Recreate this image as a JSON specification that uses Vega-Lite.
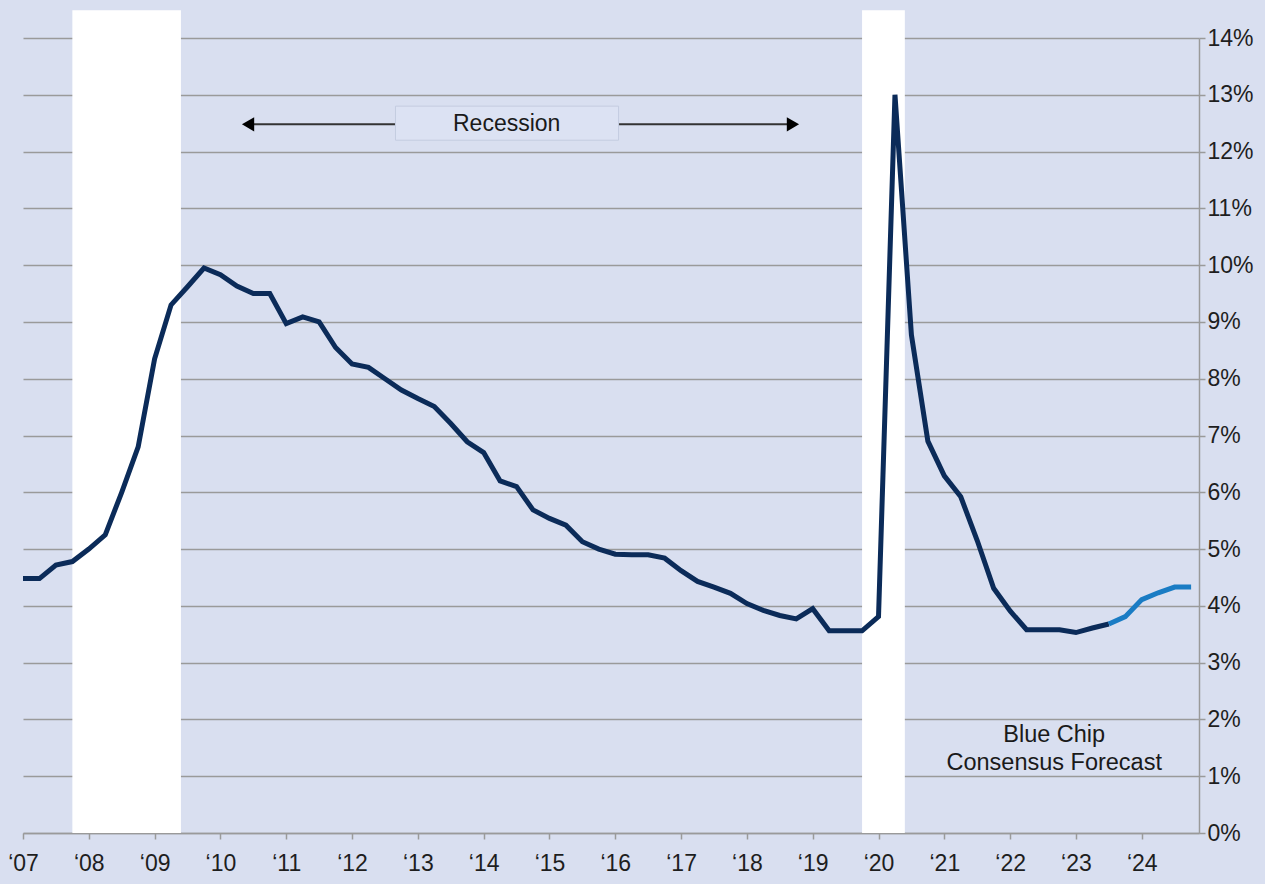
{
  "$schema": "https://vega.github.io/schema/vega-lite/v6.json",
  "width": 1176,
  "height": 795,
  "autosize": {"type": "none"},
  "padding": {"left": 23, "top": 38, "right": 66, "bottom": 51},
  "background": "#d9dff0",
  "config": {
    "view": {"stroke": null, "fill": "#d9dff0"},
    "font": "Liberation Sans"
  },
  "datasets": {
    "ur": [
      {"t": 2007.0, "v": 4.48, "s": "actual"},
      {"t": 2007.25, "v": 4.48, "s": "actual"},
      {"t": 2007.5, "v": 4.72, "s": "actual"},
      {"t": 2007.75, "v": 4.78, "s": "actual"},
      {"t": 2008.0, "v": 5.0, "s": "actual"},
      {"t": 2008.25, "v": 5.25, "s": "actual"},
      {"t": 2008.5, "v": 6.0, "s": "actual"},
      {"t": 2008.75, "v": 6.8, "s": "actual"},
      {"t": 2009.0, "v": 8.35, "s": "actual"},
      {"t": 2009.25, "v": 9.3, "s": "actual"},
      {"t": 2009.5, "v": 9.62, "s": "actual"},
      {"t": 2009.75, "v": 9.95, "s": "actual"},
      {"t": 2010.0, "v": 9.83, "s": "actual"},
      {"t": 2010.25, "v": 9.63, "s": "actual"},
      {"t": 2010.5, "v": 9.5, "s": "actual"},
      {"t": 2010.75, "v": 9.5, "s": "actual"},
      {"t": 2011.0, "v": 8.97, "s": "actual"},
      {"t": 2011.25, "v": 9.09, "s": "actual"},
      {"t": 2011.5, "v": 9.0, "s": "actual"},
      {"t": 2011.75, "v": 8.55, "s": "actual"},
      {"t": 2012.0, "v": 8.26, "s": "actual"},
      {"t": 2012.25, "v": 8.2, "s": "actual"},
      {"t": 2012.5, "v": 8.0, "s": "actual"},
      {"t": 2012.75, "v": 7.8, "s": "actual"},
      {"t": 2013.0, "v": 7.65, "s": "actual"},
      {"t": 2013.25, "v": 7.51, "s": "actual"},
      {"t": 2013.5, "v": 7.21, "s": "actual"},
      {"t": 2013.75, "v": 6.89, "s": "actual"},
      {"t": 2014.0, "v": 6.7, "s": "actual"},
      {"t": 2014.25, "v": 6.2, "s": "actual"},
      {"t": 2014.5, "v": 6.1, "s": "actual"},
      {"t": 2014.75, "v": 5.69, "s": "actual"},
      {"t": 2015.0, "v": 5.54, "s": "actual"},
      {"t": 2015.25, "v": 5.42, "s": "actual"},
      {"t": 2015.5, "v": 5.13, "s": "actual"},
      {"t": 2015.75, "v": 5.0, "s": "actual"},
      {"t": 2016.0, "v": 4.91, "s": "actual"},
      {"t": 2016.25, "v": 4.9, "s": "actual"},
      {"t": 2016.5, "v": 4.9, "s": "actual"},
      {"t": 2016.75, "v": 4.84, "s": "actual"},
      {"t": 2017.0, "v": 4.62, "s": "actual"},
      {"t": 2017.25, "v": 4.43, "s": "actual"},
      {"t": 2017.5, "v": 4.33, "s": "actual"},
      {"t": 2017.75, "v": 4.22, "s": "actual"},
      {"t": 2018.0, "v": 4.04, "s": "actual"},
      {"t": 2018.25, "v": 3.92, "s": "actual"},
      {"t": 2018.5, "v": 3.83, "s": "actual"},
      {"t": 2018.75, "v": 3.77, "s": "actual"},
      {"t": 2019.0, "v": 3.95, "s": "actual"},
      {"t": 2019.25, "v": 3.56, "s": "actual"},
      {"t": 2019.5, "v": 3.56, "s": "actual"},
      {"t": 2019.75, "v": 3.56, "s": "actual"},
      {"t": 2020.0, "v": 3.81, "s": "actual"},
      {"t": 2020.25, "v": 13.0, "s": "actual"},
      {"t": 2020.5, "v": 8.77, "s": "actual"},
      {"t": 2020.75, "v": 6.9, "s": "actual"},
      {"t": 2021.0, "v": 6.29, "s": "actual"},
      {"t": 2021.25, "v": 5.92, "s": "actual"},
      {"t": 2021.5, "v": 5.15, "s": "actual"},
      {"t": 2021.75, "v": 4.31, "s": "actual"},
      {"t": 2022.0, "v": 3.91, "s": "actual"},
      {"t": 2022.25, "v": 3.58, "s": "actual"},
      {"t": 2022.5, "v": 3.58, "s": "actual"},
      {"t": 2022.75, "v": 3.58, "s": "actual"},
      {"t": 2023.0, "v": 3.53, "s": "actual"},
      {"t": 2023.25, "v": 3.61, "s": "actual"},
      {"t": 2023.5, "v": 3.68, "s": "actual"},
      {"t": 2023.5, "v": 3.68, "s": "forecast"},
      {"t": 2023.75, "v": 3.81, "s": "forecast"},
      {"t": 2024.0, "v": 4.11, "s": "forecast"},
      {"t": 2024.25, "v": 4.23, "s": "forecast"},
      {"t": 2024.5, "v": 4.33, "s": "forecast"},
      {"t": 2024.75, "v": 4.33, "s": "forecast"}
    ],
    "bands": [
      {"x1": 2007.75, "x2": 2009.4, "y1": 0, "y2": 14.49},
      {"x1": 2019.75, "x2": 2020.4, "y1": 0, "y2": 14.49}
    ],
    "arrows": [
      {"a": 2010.4, "b": 2012.66, "y": 12.48},
      {"a": 2016.05, "b": 2018.71, "y": 12.48}
    ],
    "heads": [
      {"x": 2010.42, "y": 12.48, "shape": "triangle-left"},
      {"x": 2018.7, "y": 12.48, "shape": "triangle-right"}
    ],
    "box": [
      {"x1": 2012.66, "x2": 2016.05, "y1": 12.2, "y2": 12.8, "label": "Recession", "xc": 2014.35, "yc": 12.48}
    ],
    "notes": [
      {"x": 2022.67, "y": 1.725, "label": "Blue Chip"},
      {"x": 2022.67, "y": 1.23, "label": "Consensus Forecast"}
    ]
  },
  "layer": [
    {
      "data": {"name": "bands"},
      "mark": {"type": "rect", "fill": "#ffffff", "clip": false},
      "encoding": {
        "x": {
          "field": "x1", "type": "quantitative",
          "scale": {"domain": [2007, 2024.87], "nice": false, "zero": false},
          "axis": {
            "values": [2007, 2008, 2009, 2010, 2011, 2012, 2013, 2014, 2015, 2016, 2017, 2018, 2019, 2020, 2021, 2022, 2023, 2024],
            "labelExpr": "'\u2018' + slice(toString(datum.value), 2)",
            "title": null,
            "grid": false,
            "domainColor": "#9a9a9a",
            "domainWidth": 1.5,
            "tickColor": "#9a9a9a",
            "tickWidth": 1.5,
            "tickSize": 6,
            "labelPadding": 13,
            "labelFontSize": 23,
            "labelColor": "#1e1e1e",
            "labelFont": "Liberation Sans",
            "labelOverlap": false,
            "labelFlush": false
          }
        },
        "x2": {"field": "x2"},
        "y": {
          "field": "y1", "type": "quantitative",
          "scale": {"domain": [0, 14], "nice": false},
          "axis": {
            "orient": "right",
            "values": [0, 1, 2, 3, 4, 5, 6, 7, 8, 9, 10, 11, 12, 13, 14],
            "labelExpr": "datum.value + '%'",
            "title": null,
            "grid": true,
            "gridColor": "#9a9a9a",
            "gridWidth": 1.5,
            "domainColor": "#9a9a9a",
            "domainWidth": 1.5,
            "tickColor": "#9a9a9a",
            "tickWidth": 1.5,
            "tickSize": 6,
            "labelPadding": 2,
            "labelFontSize": 23,
            "labelColor": "#1e1e1e",
            "labelFont": "Liberation Sans",
            "labelOverlap": false,
            "labelFlush": false
          }
        },
        "y2": {"field": "y2"}
      }
    },
    {
      "data": {"name": "arrows"},
      "mark": {"type": "rule", "color": "#333333", "strokeWidth": 2},
      "encoding": {
        "x": {"field": "a", "type": "quantitative", "title": null},
        "x2": {"field": "b"},
        "y": {"field": "y", "type": "quantitative", "title": null}
      }
    },
    {
      "data": {"name": "heads"},
      "mark": {"type": "point", "filled": true, "color": "#000000", "size": 200, "opacity": 1},
      "encoding": {
        "x": {"field": "x", "type": "quantitative", "title": null},
        "y": {"field": "y", "type": "quantitative", "title": null},
        "shape": {"field": "shape", "type": "nominal", "scale": null, "legend": null}
      }
    },
    {
      "data": {"name": "box"},
      "mark": {"type": "rect", "fill": "#dce2f3", "stroke": "#c4cce0", "strokeWidth": 1},
      "encoding": {
        "x": {"field": "x1", "type": "quantitative", "title": null},
        "x2": {"field": "x2"},
        "y": {"field": "y1", "type": "quantitative", "title": null},
        "y2": {"field": "y2"}
      }
    },
    {
      "data": {"name": "box"},
      "mark": {"type": "text", "fontSize": 23, "font": "Liberation Sans", "color": "#1a1a1a", "align": "center", "baseline": "middle"},
      "encoding": {
        "x": {"field": "xc", "type": "quantitative", "title": null},
        "y": {"field": "yc", "type": "quantitative", "title": null},
        "text": {"field": "label"}
      }
    },
    {
      "data": {"name": "ur"},
      "mark": {"type": "line", "strokeWidth": 5, "strokeJoin": "miter", "strokeCap": "butt", "clip": false},
      "encoding": {
        "x": {"field": "t", "type": "quantitative", "title": null},
        "y": {"field": "v", "type": "quantitative", "title": null},
        "color": {
          "field": "s", "type": "nominal",
          "scale": {"domain": ["actual", "forecast"], "range": ["#0b2b59", "#1a7cc4"]},
          "legend": null
        },
        "order": {"field": "t", "type": "quantitative"}
      }
    },
    {
      "data": {"name": "notes"},
      "mark": {"type": "text", "fontSize": 23.5, "font": "Liberation Sans", "color": "#1a1a1a", "align": "center", "baseline": "middle"},
      "encoding": {
        "x": {"field": "x", "type": "quantitative", "title": null},
        "y": {"field": "y", "type": "quantitative", "title": null},
        "text": {"field": "label"}
      }
    }
  ]
}
